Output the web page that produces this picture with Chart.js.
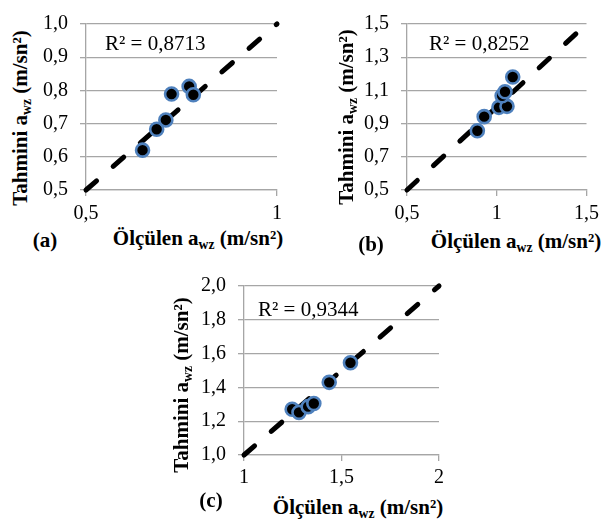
<!DOCTYPE html>
<html>
<head>
<meta charset="utf-8">
<script src="https://cdn.jsdelivr.net/npm/chart.js@4/dist/chart.umd.min.js"></script>
<style>
  body { margin: 0; background: #fff; }
  #wrap { position: relative; width: 605px; height: 525px; }
  canvas { position: absolute; }
  .lbl { position: absolute; font-family: 'Liberation Serif', 'Times New Roman', serif; font-weight: bold; font-size: 21px;
         white-space: nowrap; color: #000; transform: translate(-50%, -50%); line-height: 1; }
  .rot { transform: translate(-50%, -50%) rotate(-90deg); }
  sub { font-size: 0.65em; vertical-align: -0.3em; line-height: 0; }
</style>
</head>
<body>
<div id="wrap">
  <canvas id="chartA" width="260" height="225" style="left:40px;top:0px"></canvas>
  <canvas id="chartB" width="245" height="225" style="left:360px;top:0px"></canvas>
  <canvas id="chartC" width="260" height="230" style="left:195px;top:262px"></canvas>

  <div class="lbl rot" style="left:20px;top:118px">Tahmini a<sub>wz</sub> (m/sn²)</div>
  <div class="lbl rot" style="left:346px;top:117px">Tahmini a<sub>wz</sub> (m/sn²)</div>
  <div class="lbl rot" style="left:181px;top:385px">Tahmini a<sub>wz</sub> (m/sn²)</div>

  <div class="lbl" style="left:198px;top:238px">Ölçülen a<sub>wz</sub> (m/sn²)</div>
  <div class="lbl" style="left:516px;top:241px">Ölçülen a<sub>wz</sub> (m/sn²)</div>
  <div class="lbl" style="left:358px;top:507px">Ölçülen a<sub>wz</sub> (m/sn²)</div>

  <div class="lbl" style="left:45px;top:240px">(a)</div>
  <div class="lbl" style="left:371px;top:244px">(b)</div>
  <div class="lbl" style="left:211px;top:500px">(c)</div>
</div>
<script>
// (a)
const measuredA = [0.648, 0.685, 0.709, 0.724, 0.770, 0.781];
const predictedA = [0.620, 0.683, 0.711, 0.789, 0.812, 0.787];
// (b)
const measuredB = [0.892, 0.930, 1.012, 1.057, 1.030, 1.046, 1.089];
const predictedB = [0.857, 0.942, 0.998, 1.004, 1.068, 1.092, 1.181];
// (c)
const measuredC = [1.247, 1.282, 1.329, 1.358, 1.437, 1.546];
const predictedC = [1.271, 1.252, 1.286, 1.305, 1.430, 1.546];

const r2Labels = ['R² = 0,8713', 'R² = 0,8252', 'R² = 0,9344'];
const axisRanges = [[0.5, 1.0], [0.5, 1.5], [1.0, 2.0]];
const yStepSizes = [0.1, 0.2, 0.2];
const xStepSizes = [0.5, 0.5, 0.5];

const gridColor = '#a6a6a6';
const fontFamily = "'Liberation Serif', 'Times New Roman', serif";

const r2Plugin = {
    id: 'r2Label',
    afterDatasetsDraw(chart, args, opts) {
        const ctx = chart.ctx;
        const area = chart.chartArea;
        ctx.save();
        ctx.font = '21px ' + fontFamily;
        ctx.fillStyle = '#000';
        ctx.textBaseline = 'middle';
        ctx.fillText(opts.text, area.left + opts.dx, area.top + opts.dy);
        ctx.restore();
    }
};

function drawScatter(canvasId, measured, predicted, idx, geo) {
    const [lo, hi] = axisRanges[idx];
    const points = measured.map((m, i) => ({ x: m, y: predicted[i] }));

    const config = {
        type: 'scatter',
        data: {
            datasets: [{
                type: 'line',
                data: [{ x: lo, y: lo }, { x: hi, y: hi }],
                borderColor: '#000',
                borderWidth: 5,
                borderDash: [14, 22],
                borderCapStyle: 'round',
                pointRadius: 0,
                fill: false,
                clip: false,
                order: 2
            }, {
                data: points,
                backgroundColor: '#000',
                borderColor: '#4f81bd',
                borderWidth: 2.6,
                pointRadius: 6.5,
                order: 1
            }]
        },
        options: {
            responsive: false,
            animation: false,
            layout: { padding: { top: geo.top, right: geo.right, left: 0, bottom: 0 } },
            plugins: {
                legend: { display: false },
                tooltip: { enabled: false },
                r2Label: { text: r2Labels[idx], dx: geo.r2x, dy: geo.r2y }
            },
            scales: {
                x: {
                    type: 'linear',
                    min: lo,
                    max: hi,
                    afterFit: s => { s.height = geo.xh; },
                    ticks: {
                        stepSize: xStepSizes[idx],
                        padding: geo.xpad,
                        color: '#000',
                        font: { family: fontFamily, size: 20 },
                        callback: v => String(v).replace('.', ',')
                    },
                    grid: { drawOnChartArea: false, tickLength: 6, color: gridColor, lineWidth: 1.3 },
                    border: { color: gridColor, width: 1.3 }
                },
                y: {
                    type: 'linear',
                    min: lo,
                    max: hi,
                    afterFit: s => { s.width = geo.yw; },
                    ticks: {
                        stepSize: yStepSizes[idx],
                        padding: 12,
                        color: '#000',
                        font: { family: fontFamily, size: 20 },
                        callback: v => v.toFixed(1).replace('.', ',')
                    },
                    grid: { tickLength: 6, color: gridColor, lineWidth: 1.3 },
                    border: { color: gridColor, width: 1.3 }
                }
            }
        },
        plugins: [r2Plugin]
    };
    return new Chart(document.getElementById(canvasId).getContext('2d'), config);
}

drawScatter('chartA', measuredA, predictedA, 0, { top: 13, right: 23, xh: 35, yw: 46, xpad: 6, r2x: 19, r2y: 20 });
drawScatter('chartB', measuredB, predictedB, 1, { top: 13, right: 15, xh: 35, yw: 47, xpad: 6, r2x: 22, r2y: 20 });
drawScatter('chartC', measuredC, predictedC, 2, { top: 15, right: 16, xh: 37, yw: 49, xpad: 5, r2x: 14, r2y: 24 });
</script>
</body>
</html>
